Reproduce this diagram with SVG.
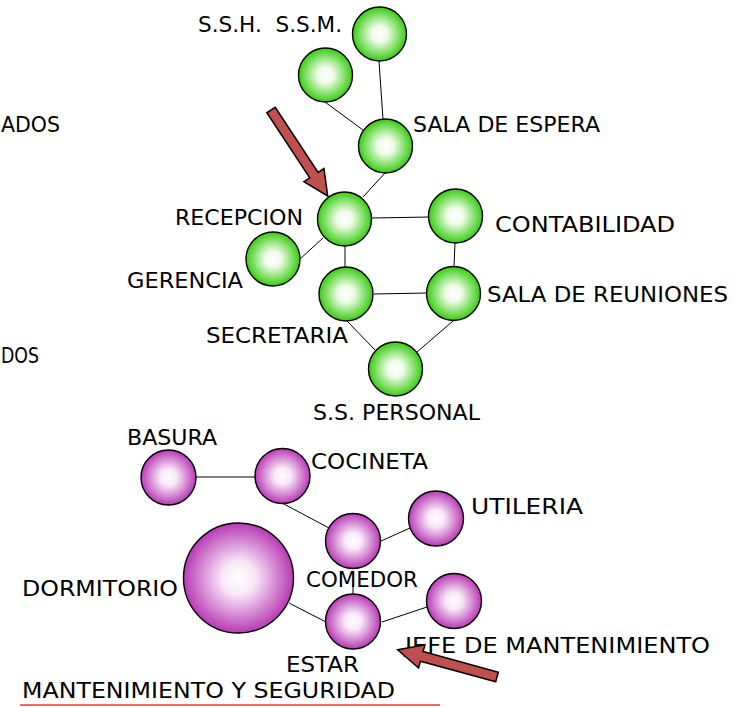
<svg xmlns="http://www.w3.org/2000/svg" width="752" height="707" viewBox="0 0 752 707">
<defs>
<radialGradient id="gG" cx="50%" cy="50%" r="50%">
<stop offset="0" stop-color="#ffffff"/>
<stop offset="0.3" stop-color="#eefbe8"/>
<stop offset="1" stop-color="#38cc10"/>
</radialGradient>
<radialGradient id="gP" cx="50%" cy="50%" r="50%">
<stop offset="0" stop-color="#ffffff"/>
<stop offset="0.3" stop-color="#f8e8f7"/>
<stop offset="1" stop-color="#b83ab5"/>
</radialGradient>
<style>
.g{fill:url(#gG);stroke:#000;stroke-width:1.4}
.p{fill:url(#gP);stroke:#000;stroke-width:1.4}
.t{font-family:"DejaVu Sans","Liberation Sans",sans-serif;font-size:21px;fill:#000}
.e{stroke:#000;stroke-width:1;fill:none}
.arr{fill:#c0504d;stroke:#000;stroke-width:1.5;stroke-linejoin:miter}
</style>
</defs>
<rect width="752" height="707" fill="#fff"/>
<g id="connectors">
<line class="e" x1="379" y1="61" x2="383" y2="119"/>
<line class="e" x1="325" y1="102" x2="363" y2="130"/>
<line class="e" x1="385" y1="173" x2="363" y2="197"/>
<line class="e" x1="372" y1="218" x2="429" y2="217"/>
<line class="e" x1="323" y1="238" x2="300" y2="259"/>
<line class="e" x1="345" y1="246" x2="345" y2="267"/>
<line class="e" x1="455" y1="243" x2="454" y2="266"/>
<line class="e" x1="374" y1="294" x2="427" y2="293"/>
<line class="e" x1="347" y1="321" x2="375" y2="350"/>
<line class="e" x1="453" y1="321" x2="417" y2="352"/>
<line class="e" x1="196" y1="477" x2="255" y2="477"/>
<line class="e" x1="282" y1="503" x2="329" y2="528"/>
<line class="e" x1="381" y1="541" x2="410" y2="528"/>
<line class="e" x1="353" y1="583" x2="353" y2="594"/>
<line class="e" x1="289" y1="603" x2="326" y2="622"/>
<line class="e" x1="382" y1="622" x2="427" y2="607"/>
</g>
<g id="n-ssm"><circle class="g" cx="379.5" cy="34" r="27"/></g>
<g id="n-ssh"><circle class="g" cx="325.5" cy="75" r="27"/></g>
<g id="n-espera"><circle class="g" cx="385.5" cy="146" r="27"/></g>
<g id="n-recepcion"><circle class="g" cx="344.5" cy="219" r="27"/></g>
<g id="n-gerencia"><circle class="g" cx="273" cy="259" r="27"/></g>
<g id="n-contabilidad"><circle class="g" cx="455.5" cy="216" r="27"/></g>
<g id="n-secretaria"><circle class="g" cx="346" cy="294" r="27"/></g>
<g id="n-reuniones"><circle class="g" cx="453.5" cy="293.5" r="27"/></g>
<g id="n-personal"><circle class="g" cx="395.5" cy="369" r="27"/></g>
<g id="n-basura"><circle class="p" cx="168.5" cy="477.5" r="27.5"/></g>
<g id="n-cocineta"><circle class="p" cx="282.5" cy="476" r="27.5"/></g>
<g id="n-comedor"><circle class="p" cx="353" cy="541" r="27.5"/></g>
<g id="n-utileria"><circle class="p" cx="436" cy="518.5" r="27.5"/></g>
<g id="n-dormitorio"><circle class="p" cx="238.5" cy="578" r="55"/></g>
<g id="n-estar"><circle class="p" cx="353" cy="621.5" r="27.5"/></g>
<g id="n-jefe"><circle class="p" cx="454" cy="601" r="27.5"/></g>
<g id="labels">
<text class="t" x="198" y="32" textLength="144" lengthAdjust="spacingAndGlyphs" xml:space="preserve">S.S.H.  S.S.M.</text>
<text class="t" x="1" y="132" textLength="59" lengthAdjust="spacingAndGlyphs">ADOS</text>
<text class="t" x="1" y="363" textLength="38" lengthAdjust="spacingAndGlyphs">DOS</text>
<text class="t" x="413" y="132" textLength="187" lengthAdjust="spacingAndGlyphs">SALA DE ESPERA</text>
<text class="t" x="175" y="225" textLength="128" lengthAdjust="spacingAndGlyphs">RECEPCION</text>
<text class="t" x="495" y="232" textLength="180" lengthAdjust="spacingAndGlyphs">CONTABILIDAD</text>
<text class="t" x="127" y="288" textLength="116" lengthAdjust="spacingAndGlyphs">GERENCIA</text>
<text class="t" x="487" y="302" textLength="241" lengthAdjust="spacingAndGlyphs">SALA DE REUNIONES</text>
<text class="t" x="206" y="343" textLength="142" lengthAdjust="spacingAndGlyphs">SECRETARIA</text>
<text class="t" x="313" y="420" textLength="167" lengthAdjust="spacingAndGlyphs">S.S. PERSONAL</text>
<text class="t" x="127" y="445" textLength="90" lengthAdjust="spacingAndGlyphs">BASURA</text>
<text class="t" x="311" y="469" textLength="117" lengthAdjust="spacingAndGlyphs">COCINETA</text>
<text class="t" x="471" y="514" textLength="112" lengthAdjust="spacingAndGlyphs">UTILERIA</text>
<text class="t" x="306" y="587" textLength="112" lengthAdjust="spacingAndGlyphs">COMEDOR</text>
<text class="t" x="22" y="596" textLength="156" lengthAdjust="spacingAndGlyphs">DORMITORIO</text>
<text class="t" x="405" y="653" textLength="305" lengthAdjust="spacingAndGlyphs">JEFE DE MANTENIMIENTO</text>
<text class="t" x="286" y="672" textLength="73" lengthAdjust="spacingAndGlyphs">ESTAR</text>
<text class="t" x="22" y="698" textLength="373" lengthAdjust="spacingAndGlyphs">MANTENIMIENTO Y SEGURIDAD</text>
</g>
<line x1="20" y1="705" x2="440" y2="705" stroke="#ff3030" stroke-width="1.5"/>
<g id="arrows">
<polygon class="arr" transform="translate(271,110) rotate(56.6)" points="0,-5 78,-5 78,-12 103,0 78,12 78,5 0,5"/>
<polygon class="arr" transform="translate(497,677) rotate(195.3)" points="0,-5 78,-5 78,-12 103,0 78,12 78,5 0,5"/>
</g>
</svg>
